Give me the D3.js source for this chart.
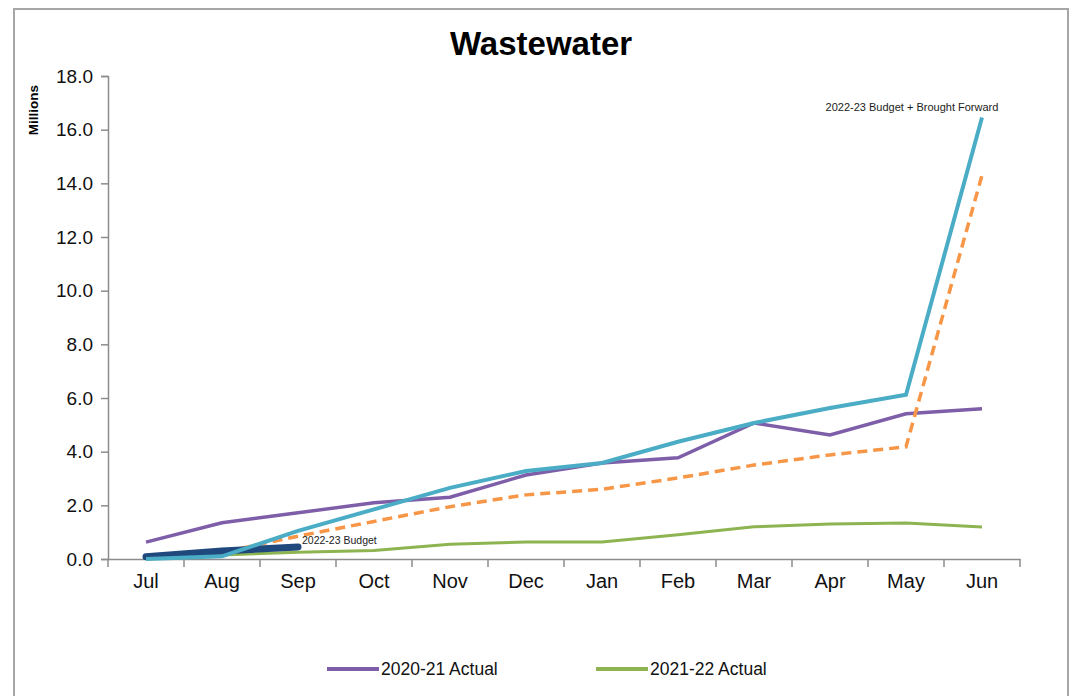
<!DOCTYPE html>
<html>
<head>
<meta charset="utf-8">
<script src="https://cdn.jsdelivr.net/npm/d3@7"></script>
<style>
  body { margin: 0; background: #fff; }
  text { font-family: "Liberation Sans", Arial, sans-serif; }
</style>
</head>
<body>
<div id="chart"></div>
<script>
var svgWidth = 1085;
var svgHeight = 696;

var margin = { top: 76, right: 65, bottom: 137, left: 108 };
var width = 1020 - margin.left;
var height = 559 - margin.top;

// Data
var months = ["Jul", "Aug", "Sep", "Oct", "Nov", "Dec", "Jan", "Feb", "Mar", "Apr", "May", "Jun"];
var actual2021 = [0.63, 1.35, 1.72, 2.1, 2.3, 3.13, 3.58, 3.77, 5.07, 4.62, 5.41, 5.6];
var actual2122 = [0.05, 0.15, 0.25, 0.32, 0.55, 0.63, 0.63, 0.9, 1.2, 1.3, 1.34, 1.19];
var budget2223 = [0.0, 0.25, 0.85, 1.4, 1.95, 2.39, 2.6, 3.02, 3.5, 3.88, 4.18, 14.3];
var budgetBF = [0.0, 0.1, 1.05, 1.85, 2.65, 3.28, 3.58, 4.37, 5.07, 5.63, 6.12, 16.45];
var actual2223 = [0.08, 0.3, 0.45];
var yTicks = [0, 2, 4, 6, 8, 10, 12, 14, 16, 18];

var svg = d3.select("#chart")
  .append("svg")
  .attr("width", svgWidth)
  .attr("height", svgHeight);

// outer frame
svg.append("rect")
  .attr("x", 14).attr("y", 9)
  .attr("width", 1054).attr("height", 700)
  .attr("fill", "none")
  .attr("stroke", "#a6a6a6")
  .attr("stroke-width", 2);

var chartGroup = svg.append("g")
  .attr("transform", `translate(${margin.left}, ${margin.top})`);

var xScale = d3.scaleBand()
  .domain(months)
  .range([0, width]);

var yScale = d3.scaleLinear()
  .domain([0, 18])
  .range([height, 0]);

var xPos = function(d, i) { return xScale(months[i]) + xScale.bandwidth() / 2; };

// axes
var bottomAxis = d3.axisBottom(xScale).tickSize(0).tickPadding(15);
var leftAxis = d3.axisLeft(yScale).tickValues(yTicks).tickFormat(d3.format(".1f")).tickSize(7).tickPadding(8);

var xAxisG = chartGroup.append("g")
  .attr("transform", `translate(0, ${height})`)
  .call(bottomAxis);
xAxisG.select(".domain").attr("stroke", "#8c8c8c").attr("stroke-width", 1.5);
xAxisG.selectAll("text").attr("font-size", "20px").attr("fill", "#111");

// tick marks at category boundaries
xAxisG.selectAll("line.bound")
  .data(months.concat(["end"]))
  .enter()
  .append("line")
  .attr("class", "bound")
  .attr("x1", (d, i) => i * xScale.bandwidth())
  .attr("x2", (d, i) => i * xScale.bandwidth())
  .attr("y1", 0).attr("y2", 8)
  .attr("stroke", "#8c8c8c").attr("stroke-width", 1.5);

var yAxisG = chartGroup.append("g").call(leftAxis);
yAxisG.select(".domain").attr("stroke", "#8c8c8c").attr("stroke-width", 1.5);
yAxisG.selectAll(".tick line").attr("stroke", "#8c8c8c").attr("stroke-width", 1.5);
yAxisG.selectAll("text").attr("font-size", "19px").attr("fill", "#111");

// lines
var line = d3.line()
  .x(xPos)
  .y(d => yScale(d));

chartGroup.append("path")
  .datum(actual2122)
  .attr("d", line)
  .attr("fill", "none")
  .attr("stroke", "#8db451")
  .attr("stroke-width", 3);

chartGroup.append("path")
  .datum(actual2021)
  .attr("d", line)
  .attr("fill", "none")
  .attr("stroke", "#7e5ea8")
  .attr("stroke-width", 3.5);

chartGroup.append("path")
  .datum(budget2223)
  .attr("d", line)
  .attr("fill", "none")
  .attr("stroke", "#f79646")
  .attr("stroke-width", 3.5)
  .attr("stroke-dasharray", "10,6");

chartGroup.append("path")
  .datum(actual2223)
  .attr("d", line)
  .attr("fill", "none")
  .attr("stroke", "#1f497d")
  .attr("stroke-width", 7)
  .attr("stroke-linecap", "round");

chartGroup.append("path")
  .datum(budgetBF)
  .attr("d", line)
  .attr("fill", "none")
  .attr("stroke", "#4bacc6")
  .attr("stroke-width", 4);

// line labels
chartGroup.append("text")
  .attr("x", xPos(0, 2) + 4)
  .attr("y", yScale(actual2223[2]) - 3)
  .attr("font-size", "10.5px")
  .attr("fill", "#222")
  .text("2022-23 Budget");

chartGroup.append("text")
  .attr("x", xPos(0, 11) - 70)
  .attr("y", yScale(budgetBF[11]) - 7)
  .attr("text-anchor", "middle")
  .attr("font-size", "11px")
  .attr("fill", "#222")
  .text("2022-23 Budget + Brought Forward");

// title
svg.append("text")
  .attr("x", 541)
  .attr("y", 55)
  .attr("text-anchor", "middle")
  .attr("font-size", "33px")
  .attr("font-weight", "bold")
  .attr("fill", "#000")
  .text("Wastewater");

// y axis title
svg.append("text")
  .attr("transform", "translate(38, 110) rotate(-90)")
  .attr("text-anchor", "middle")
  .attr("font-size", "13.5px")
  .attr("font-weight", "bold")
  .text("Millions");

// legend
var legendItems = [
  { label: "2020-21 Actual", color: "#7e5ea8", x: 327 },
  { label: "2021-22 Actual", color: "#8db451", x: 596 }
];
var legend = svg.selectAll("g.legend")
  .data(legendItems)
  .enter()
  .append("g")
  .attr("class", "legend")
  .attr("transform", d => `translate(${d.x}, 669)`);

legend.append("line")
  .attr("x1", 0).attr("x2", 52)
  .attr("y1", 0).attr("y2", 0)
  .attr("stroke", d => d.color)
  .attr("stroke-width", 4);

legend.append("text")
  .attr("x", 54)
  .attr("y", 6)
  .attr("font-size", "17.5px")
  .attr("fill", "#111")
  .text(d => d.label);
</script>
</body>
</html>
